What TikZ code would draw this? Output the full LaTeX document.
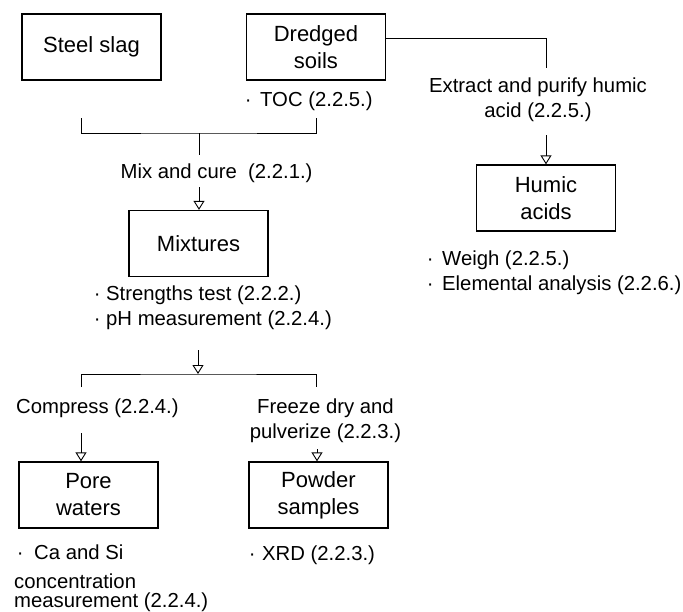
\documentclass[tikz,border=0pt]{standalone}
\usepackage{fontspec}
\setmainfont{Liberation Sans}
\usetikzlibrary{arrows.meta}
\newcommand\Lft[1]{\vtop{\halign{##\hfil\cr#1\crcr}}}
\newcommand\Ctr[1]{\vtop{\halign{\hfil##\hfil\cr#1\crcr}}}
\newcommand\bul[1]{\makebox[0pt][c]{·}\hspace*{#1pt}}
\tikzset{
  box/.style={draw, line width=1.3pt, minimum width=139pt, minimum height=66pt,
    inner sep=0pt, align=center, font=\fontsize{22}{27}\selectfont},
  lbl/.style={inner sep=0pt, font=\fontsize{20.3}{25}\selectfont},
  conn/.style={line width=0.9pt},
  arr/.style={conn, -{Triangle[open, length=9pt, width=11pt]}},
}
\begin{document}
\begin{tikzpicture}[x=1pt, y=-1pt]
\useasboundingbox (0,0) rectangle (683,611);
% boxes
\node[box] (slag) at (91.5,47) {Steel slag};
\node[box] (dredged) at (316,47) {Dredged\\soils};
\node[box] (humic) at (546,198) {Humic\\acids};
\node[box] (mix) at (198.5,243.5) {Mixtures};
\node[box] (pore) at (88.5,495) {Pore\\waters};
\node[box] (powder) at (318.5,495) {Powder\\samples};
% labels
\node[lbl, anchor=base west] (toc) at (248,106) {\bul{12}TOC (2.2.5.)};
\node[lbl, anchor=base] (extract) at (538,92) {\Ctr{Extract and purify humic\cr acid (2.2.5.)}};
\node[lbl, anchor=base west] (mixcure) at (120.5,178) {Mix and cure\ \ (2.2.1.)};
\node[lbl, anchor=base west] (weigh) at (430,265) {\Lft{\bul{12}Weigh (2.2.5.)\cr\bul{12}Elemental analysis (2.2.6.)}};
\node[lbl, anchor=base west] (tests) at (97,300) {\Lft{\bul{9}Strengths test (2.2.2.)\cr\bul{9}pH measurement (2.2.4.)}};
\node[lbl, anchor=base west] (compress) at (16,413) {Compress (2.2.4.)};
\node[lbl, anchor=base] (freeze) at (325.5,413) {\Ctr{Freeze dry and\cr pulverize (2.2.3.)}};
\node[lbl, anchor=base west] (ca) at (14,559) {\Lft{\hspace*{6pt}\bul{14}Ca and Si\cr\noalign{\vskip4pt}concentration\cr\noalign{\vskip-6pt}measurement (2.2.4.)}};
\node[lbl, anchor=base west] (xrd) at (252,560) {\bul{10}XRD (2.2.3.)};
% coordinates for free ends
\coordinate (ext1) at (546,68);
\coordinate (ext2) at (546,135);
\coordinate (b1l) at (81,118);
\coordinate (b1r) at (316,118);
\coordinate (b1c) at (199,133);
\coordinate (b1d) at (199,155);
\coordinate (mixin) at (199,187);
\coordinate (m2) at (198,350);
\coordinate (b2c) at (198,374);
\coordinate (b2l) at (81,387);
\coordinate (b2r) at (316,387);
\coordinate (pa) at (81,433);
\coordinate (pw) at (317,449);
% connectors
\draw[conn] ([yshift=9pt]dredged.east) -| (ext1);
\draw[arr] (ext2) -- (ext2 |- humic.north);
\draw[conn] (b1l) |- (b1c) -| (b1r);
\draw[conn] (b1c) -- (b1d);
\draw[arr] (mixin) -- (mixin |- mix.north);
\draw[arr] (m2) -- (b2c);
\draw[conn] (b2l) |- (b2c) -| (b2r);
\draw[arr] (pa) -- (pa |- pore.north);
\draw[arr] (pw) -- (pw |- powder.north);
\end{tikzpicture}
\end{document}
